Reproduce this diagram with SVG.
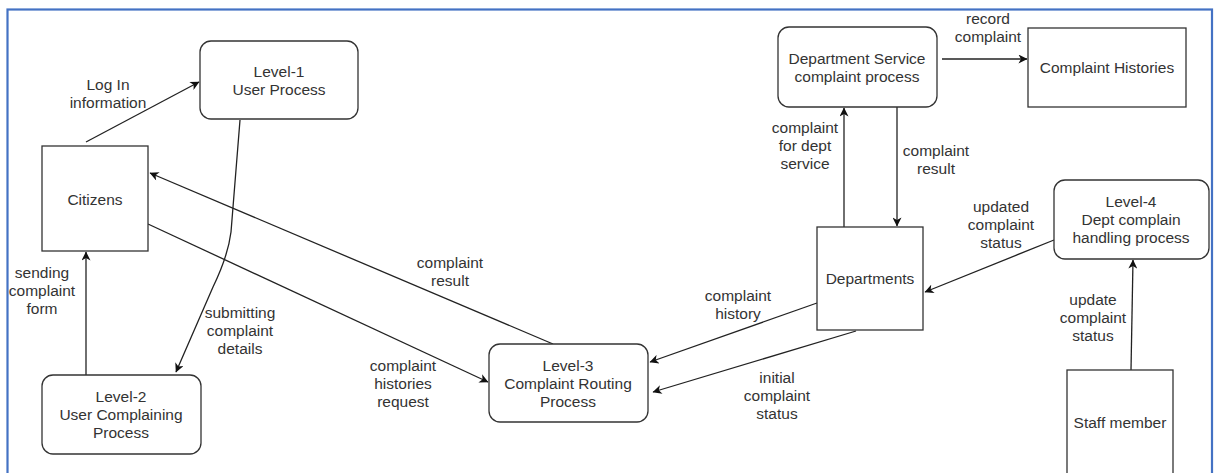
<svg xmlns="http://www.w3.org/2000/svg" width="1214" height="473" viewBox="0 0 1214 473">
  <style>
    .frame { fill: #ffffff; stroke: #4472c4; stroke-width: 2.2; }
    .box { fill: #ffffff; stroke: #333333; stroke-width: 1.3; }
    .flow { fill: none; stroke: #222222; stroke-width: 1.3; marker-end: url(#arrow); }
    text { font-family: "Liberation Sans", Arial, sans-serif; font-size: 15.5px; fill: #333333; text-anchor: middle; }
  </style>
  <defs>
    <marker id="arrow" viewBox="0 0 10 10" refX="9.5" refY="5" markerWidth="11" markerHeight="9" markerUnits="userSpaceOnUse" orient="auto">
      <path d="M0,0 L10,5 L0,10 L2.8,5 Z" fill="#111111"/>
    </marker>
  </defs>

  <!-- outer frame -->
  <rect class="frame" x="7.5" y="9.5" width="1204.5" height="475"/>

  <!-- data flows -->
  <g id="connectors">
    <path class="flow" d="M86,142 L199,82"/>
    <path class="flow" d="M240,120 L231,232 Q228,256 213,287 L176,372"/>
    <path class="flow" d="M86,375 L86,252"/>
    <path class="flow" d="M553,344 L150,173"/>
    <path class="flow" d="M148,224 L488,382"/>
    <path class="flow" d="M817,303 L650,362"/>
    <path class="flow" d="M856,331 L653,392"/>
    <path class="flow" d="M844,227 L844,108"/>
    <path class="flow" d="M897,107 L897,226"/>
    <path class="flow" d="M942,59 L1027,59"/>
    <path class="flow" d="M1054,240 L925,292"/>
    <path class="flow" d="M1131,370 L1133,260"/>

    <text x="108" y="90">Log In</text>
    <text x="108" y="108">information</text>

    <text x="42" y="278">sending</text>
    <text x="42" y="296">complaint</text>
    <text x="42" y="314">form</text>

    <text x="240" y="318">submitting</text>
    <text x="240" y="336">complaint</text>
    <text x="240" y="354">details</text>

    <text x="450" y="268">complaint</text>
    <text x="450" y="286">result</text>

    <text x="403" y="371">complaint</text>
    <text x="403" y="389">histories</text>
    <text x="403" y="407">request</text>

    <text x="738" y="301">complaint</text>
    <text x="738" y="319">history</text>

    <text x="777" y="383">initial</text>
    <text x="777" y="401">complaint</text>
    <text x="777" y="419">status</text>

    <text x="988" y="24">record</text>
    <text x="988" y="42">complaint</text>

    <text x="805" y="133">complaint</text>
    <text x="805" y="151">for dept</text>
    <text x="805" y="169">service</text>

    <text x="936" y="156">complaint</text>
    <text x="936" y="174">result</text>

    <text x="1001" y="212">updated</text>
    <text x="1001" y="230">complaint</text>
    <text x="1001" y="248">status</text>

    <text x="1093" y="305">update</text>
    <text x="1093" y="323">complaint</text>
    <text x="1093" y="341">status</text>
  </g>

  <!-- processes and external entities -->
  <g id="level1">
    <rect class="box" x="200" y="41" width="158" height="78" rx="11"/>
    <text x="279" y="77">Level-1</text>
    <text x="279" y="95">User Process</text>
  </g>

  <g id="citizens">
    <rect class="box" x="42" y="146" width="106" height="105"/>
    <text x="95" y="205">Citizens</text>
  </g>

  <g id="level2">
    <rect class="box" x="42" y="375" width="159" height="79" rx="11"/>
    <text x="121" y="402">Level-2</text>
    <text x="121" y="420">User Complaining</text>
    <text x="121" y="438">Process</text>
  </g>

  <g id="level3">
    <rect class="box" x="489" y="344" width="159" height="78" rx="11"/>
    <text x="568" y="371">Level-3</text>
    <text x="568" y="389">Complaint Routing</text>
    <text x="568" y="407">Process</text>
  </g>

  <g id="departments">
    <rect class="box" x="817" y="227" width="106" height="103"/>
    <text x="870" y="284">Departments</text>
  </g>

  <g id="dept-service">
    <rect class="box" x="778" y="27" width="159" height="80" rx="11"/>
    <text x="857" y="64">Department Service</text>
    <text x="857" y="82">complaint process</text>
  </g>

  <g id="complaint-histories">
    <rect class="box" x="1028" y="28" width="158" height="79"/>
    <text x="1107" y="73">Complaint Histories</text>
  </g>

  <g id="level4">
    <rect class="box" x="1054" y="180" width="155" height="79" rx="11"/>
    <text x="1131" y="207">Level-4</text>
    <text x="1131" y="225">Dept complain</text>
    <text x="1131" y="243">handling process</text>
  </g>

  <g id="staff-member">
    <rect class="box" x="1067" y="370" width="106" height="120"/>
    <text x="1120" y="428">Staff member</text>
  </g>
</svg>
